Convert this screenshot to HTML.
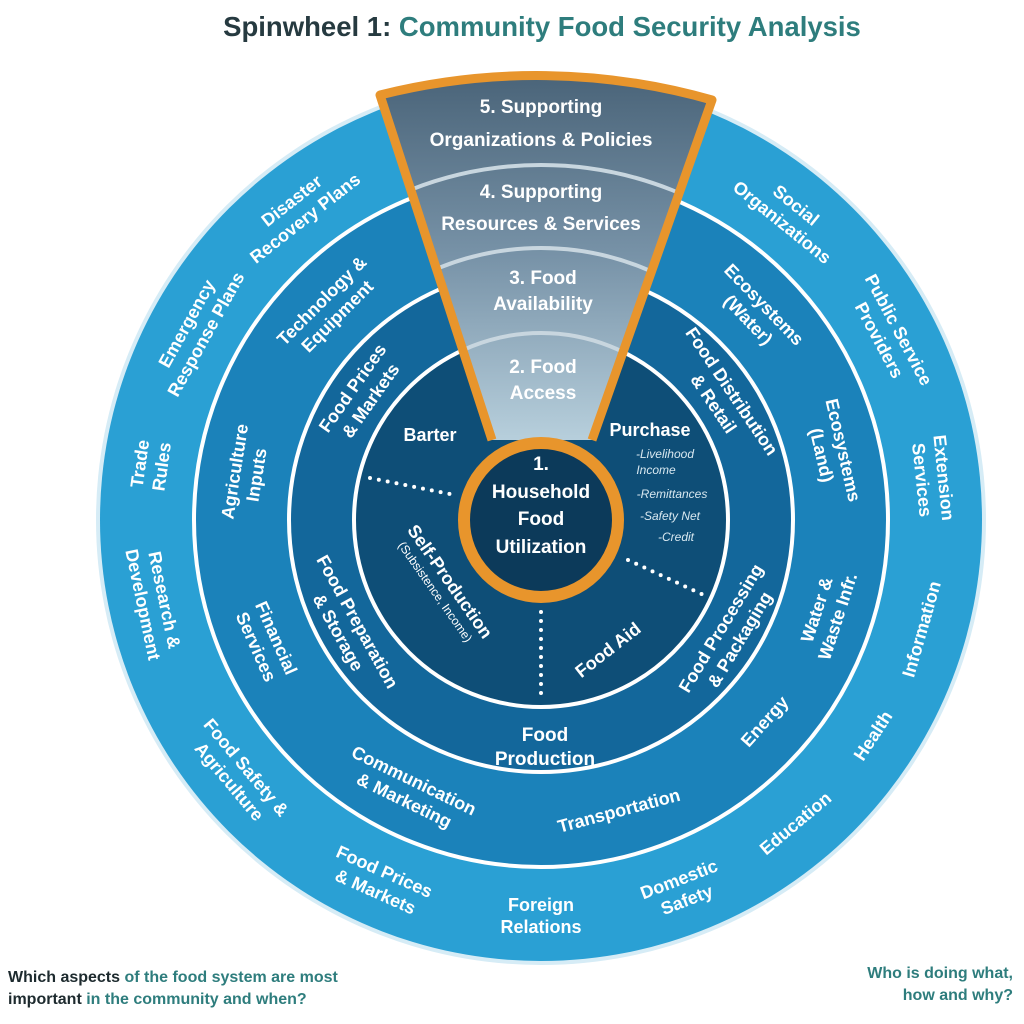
<!DOCTYPE html>
<html><head><meta charset="utf-8"><style>
body{margin:0;background:#fff;}
svg{display:block;font-family:"Liberation Sans",sans-serif;}
</style></head><body>
<svg width="1024" height="1024" viewBox="0 0 1024 1024" xmlns="http://www.w3.org/2000/svg">
<defs>
<linearGradient id="wg" x1="0" y1="0" x2="0" y2="1">
<stop offset="0" stop-color="#4a6479"/><stop offset="0.5" stop-color="#7893a8"/><stop offset="1" stop-color="#b7cfdc"/>
</linearGradient>
<clipPath id="wc"><path d="M492 440 L380 95 A640 640 0 0 1 712 100 L592 440 Z"/></clipPath>
</defs>
<text x="542" y="36" text-anchor="middle" font-size="27.5" font-weight="bold"><tspan fill="#263a40">Spinwheel 1: </tspan><tspan fill="#2e7d7d">Community Food Security Analysis</tspan></text>

<circle cx="541" cy="520" r="445" fill="#d6ecf6"/>
<circle cx="541" cy="520" r="441" fill="#2aa0d4"/>
<circle cx="541" cy="520" r="347" fill="#1b82ba"/>
<circle cx="541" cy="520" r="252" fill="#13679b"/>
<circle cx="541" cy="520" r="187" fill="#0e4e77"/>
<g fill="none" stroke="#fff" stroke-width="4">
<circle cx="541" cy="520" r="347"/><circle cx="541" cy="520" r="252"/><circle cx="541" cy="520" r="187"/>
</g>

<path d="M492 440 L380 95 A640 640 0 0 1 712 100 L592 440 Z" fill="url(#wg)"/>
<g clip-path="url(#wc)" fill="none" stroke="#c8d6df" stroke-width="4">
<circle cx="541" cy="520" r="355"/><circle cx="541" cy="520" r="272"/><circle cx="541" cy="520" r="187"/>
</g>
<path d="M492 440 L380 95 A640 640 0 0 1 712 100 L592 440" fill="none" stroke="#e8952c" stroke-width="9" stroke-linejoin="round"/>

<g stroke="#fff" stroke-width="4" stroke-linecap="round" stroke-dasharray="0 9" fill="none">
<line x1="370" y1="478" x2="455" y2="495"/>
<line x1="541" y1="612" x2="541" y2="700"/>
<line x1="628" y1="560" x2="708" y2="597"/>
</g>

<circle cx="541" cy="520" r="77" fill="#0c3a5a" stroke="#e8952c" stroke-width="12"/>

<g fill="#fff" font-weight="bold" text-anchor="middle" font-size="19">
<text x="541" y="470">1.</text>
<text x="541" y="498">Household</text>
<text x="541" y="525">Food</text>
<text x="541" y="553">Utilization</text>

<text x="541" y="113">5. Supporting</text>
<text x="541" y="146">Organizations &amp; Policies</text>
<text x="541" y="198">4. Supporting</text>
<text x="541" y="230">Resources &amp; Services</text>
<text x="543" y="284">3. Food</text>
<text x="543" y="310">Availability</text>
<text x="543" y="373">2. Food</text>
<text x="543" y="399">Access</text>

<text x="430" y="441" font-size="18">Barter</text>
<text x="650" y="436" font-size="18">Purchase</text>
<g font-size="12" font-style="italic" font-weight="normal" fill="#d8e8f0">
<text x="665" y="458">-Livelihood</text>
<text x="656" y="474">Income</text>
<text x="672" y="498">-Remittances</text>
<text x="670" y="520">-Safety Net</text>
<text x="676" y="541">-Credit</text>
</g>
<g transform="rotate(55 445 585)"><text x="445" y="585" font-size="18">Self-Production</text><text x="445" y="601" font-size="12" font-weight="normal">(Subsistence, Income)</text></g>
<g transform="rotate(-38 608 650)"><text x="608" y="656" font-size="18">Food Aid</text></g>
<text x="545" y="741">Food</text>
<text x="545" y="765">Production</text>
</g>

<g fill="#fff" font-weight="bold" text-anchor="middle" font-size="18">
<g transform="rotate(-55 541 520)"><text x="541" y="296">Food Prices</text><text x="541" y="318">&amp; Markets</text></g>
<g transform="rotate(56 541 520)"><text x="541" y="296">Food Distribution</text><text x="541" y="318">&amp; Retail</text></g>
<g transform="rotate(-59 541 520)"><text x="541" y="736">Food Processing</text><text x="541" y="758">&amp; Packaging</text></g>
<g transform="rotate(61 541 520)"><text x="541" y="736">Food Preparation</text><text x="541" y="758">&amp; Storage</text></g>

<g transform="rotate(-45 541 520)"><text x="541" y="216">Technology &amp;</text><text x="541" y="238">Equipment</text></g>
<g transform="rotate(-81 541 520)"><text x="541" y="216">Agriculture</text><text x="541" y="238">Inputs</text></g>
<g transform="rotate(66 541 520)"><text x="541" y="816">Financial</text><text x="541" y="838">Services</text></g>
<g transform="rotate(26 541 520)"><text x="541" y="816">Communication</text><text x="541" y="838">&amp; Marketing</text></g>
<g transform="rotate(-15 541 520)"><text x="541" y="827">Transportation</text></g>
<g transform="rotate(-48 541 520)"><text x="541" y="827">Energy</text></g>
<g transform="rotate(-72 541 520)"><text x="541" y="816">Water &amp;</text><text x="541" y="838">Waste Infr.</text></g>
<g transform="rotate(77 541 520)"><text x="541" y="216">Ecosystems</text><text x="541" y="238">(Land)</text></g>
<g transform="rotate(46 541 520)"><text x="541" y="216">Ecosystems</text><text x="541" y="238">(Water)</text></g>

<g transform="rotate(-38 541 520)"><text x="541" y="121">Disaster</text><text x="541" y="143">Recovery Plans</text></g>
<g transform="rotate(-61 541 520)"><text x="541" y="121">Emergency</text><text x="541" y="143">Response Plans</text></g>
<g transform="rotate(-82 541 520)"><text x="541" y="121">Trade</text><text x="541" y="143">Rules</text></g>
<g transform="rotate(78 541 520)"><text x="541" y="911">Research &amp;</text><text x="541" y="933">Development</text></g>
<g transform="rotate(50 541 520)"><text x="541" y="911">Food Safety &amp;</text><text x="541" y="933">Agriculture</text></g>
<g transform="rotate(24 541 520)"><text x="541" y="911">Food Prices</text><text x="541" y="933">&amp; Markets</text></g>
<g transform="rotate(0 541 520)"><text x="541" y="911">Foreign</text><text x="541" y="933">Relations</text></g>
<g transform="rotate(-21 541 520)"><text x="541" y="911">Domestic</text><text x="541" y="933">Safety</text></g>
<g transform="rotate(-40 541 520)"><text x="541" y="922">Education</text></g>
<g transform="rotate(-57 541 520)"><text x="541" y="922">Health</text></g>
<g transform="rotate(-74 541 520)"><text x="541" y="922">Information</text></g>
<g transform="rotate(84 541 520)"><text x="541" y="121">Extension</text><text x="541" y="143">Services</text></g>
<g transform="rotate(62 541 520)"><text x="541" y="121">Public Service</text><text x="541" y="143">Providers</text></g>
<g transform="rotate(39 541 520)"><text x="541" y="121">Social</text><text x="541" y="143">Organizations</text></g>
</g>

<g font-size="16" font-weight="bold">
<text x="8" y="982"><tspan fill="#1d2a2e">Which aspects</tspan><tspan fill="#2e7d7d"> of the food system are most</tspan></text>
<text x="8" y="1004"><tspan fill="#1d2a2e">important</tspan><tspan fill="#2e7d7d"> in the community and when?</tspan></text>
<text x="1013" y="978" text-anchor="end" fill="#2e7d7d">Who is doing what,</text>
<text x="1013" y="1000" text-anchor="end" fill="#2e7d7d">how and why?</text>
</g>
</svg>
</body></html>
